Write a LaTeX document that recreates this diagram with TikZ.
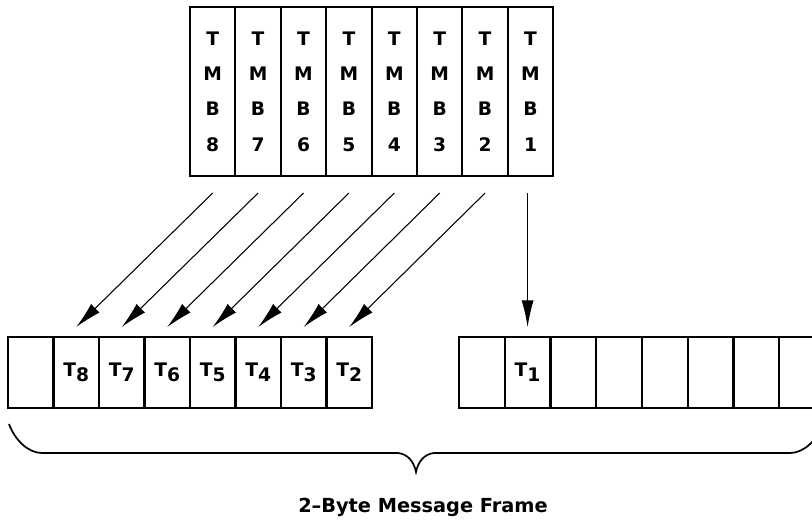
\documentclass[tikz,border=0pt]{standalone}
\usepackage{fontspec}
\setmainfont{DejaVu Sans}
\usetikzlibrary{arrows.meta}
\tikzset{
  topcell/.style={draw, line width=1.5pt, minimum width=34.05pt, minimum height=126.75pt,
    inner sep=0pt, align=center, font=\bfseries\fontsize{14}{26.5}\selectfont},
  lowcell/.style={draw, line width=1.5pt, minimum width=34.1pt, minimum height=53.25pt,
    inner sep=0pt, font=\bfseries\fontsize{14}{15}\selectfont},
  rcell/.style={draw, line width=1.5pt, minimum width=34.3pt, minimum height=53.25pt,
    inner sep=0pt, font=\bfseries\fontsize{14}{15}\selectfont},
  arr/.style={line width=0.8pt, -{Latex[length=20pt,width=9pt]}},
  bracel/.style={line width=1.3pt},
  titletext/.style={font=\bfseries\fontsize{14.5}{18}\selectfont, anchor=base}
}
\newcommand{\tlab}[1]{T\raisebox{-4pt}{#1}}
\begin{document}
\begin{tikzpicture}[x=0.75pt,y=-0.75pt]
\useasboundingbox (0,0) rectangle (812,519);
\clip (0,0) rectangle (812,519);
% top register
\node[topcell] (m8) at (212.7,91.5) {T\\M\\B\\8};
\node[topcell] (m7) at (258.1,91.5) {T\\M\\B\\7};
\node[topcell] (m6) at (303.5,91.5) {T\\M\\B\\6};
\node[topcell] (m5) at (348.9,91.5) {T\\M\\B\\5};
\node[topcell] (m4) at (394.3,91.5) {T\\M\\B\\4};
\node[topcell] (m3) at (439.7,91.5) {T\\M\\B\\3};
\node[topcell] (m2) at (485.1,91.5) {T\\M\\B\\2};
\node[topcell] (m1) at (530.5,91.5) {T\\M\\B\\1};
% lower left byte
\node[lowcell] (b0) at (30.75,372.5) {};
\node[lowcell] (b8) at (76.25,372.5) {\tlab{8}};
\node[lowcell] (b7) at (121.75,372.5) {\tlab{7}};
\node[lowcell] (b6) at (167.25,372.5) {\tlab{6}};
\node[lowcell] (b5) at (212.75,372.5) {\tlab{5}};
\node[lowcell] (b4) at (258.25,372.5) {\tlab{4}};
\node[lowcell] (b3) at (303.75,372.5) {\tlab{3}};
\node[lowcell] (b2) at (349.25,372.5) {\tlab{2}};
% lower right byte
\node[rcell] (r0) at (481.9,372.5) {};
\node[rcell] (r1) at (527.6,372.5) {\tlab{1}};
\node[rcell] (r2) at (573.4,372.5) {};
\node[rcell] (r3) at (619.1,372.5) {};
\node[rcell] (r4) at (664.9,372.5) {};
\node[rcell] (r5) at (710.6,372.5) {};
\node[rcell] (r6) at (756.4,372.5) {};
\node[rcell] (r7) at (802.1,372.5) {};
% arrows
\draw[arr] ([yshift=-12pt]m8.south) -- ([yshift=6.75pt]b8.north);
\draw[arr] ([yshift=-12pt]m7.south) -- ([yshift=6.75pt]b7.north);
\draw[arr] ([yshift=-12pt]m6.south) -- ([yshift=6.75pt]b6.north);
\draw[arr] ([yshift=-12pt]m5.south) -- ([yshift=6.75pt]b5.north);
\draw[arr] ([yshift=-12pt]m4.south) -- ([yshift=6.75pt]b4.north);
\draw[arr] ([yshift=-12pt]m3.south) -- ([yshift=6.75pt]b3.north);
\draw[arr] ([yshift=-12pt]m2.south) -- ([yshift=6.75pt]b2.north);
\draw[arr] ([yshift=-12pt]r1.north |- m1.south) -- ([yshift=6.75pt]r1.north);
% brace
\coordinate (bl) at (9,424);
\coordinate (br) at (823,424);
\coordinate (btip) at (416,472);
\draw[bracel] (bl) .. controls (15,440) and (28,453) .. (42,453) -- (398,453)
  .. controls (408,454) and (414,462) .. (btip)
  .. controls (418,462) and (424,454) .. (434,453) -- (790,453)
  .. controls (804,453) and (817,440) .. (br);
\node[titletext] (title) at (423,512) {2–Byte Message Frame};
\end{tikzpicture}
\end{document}
